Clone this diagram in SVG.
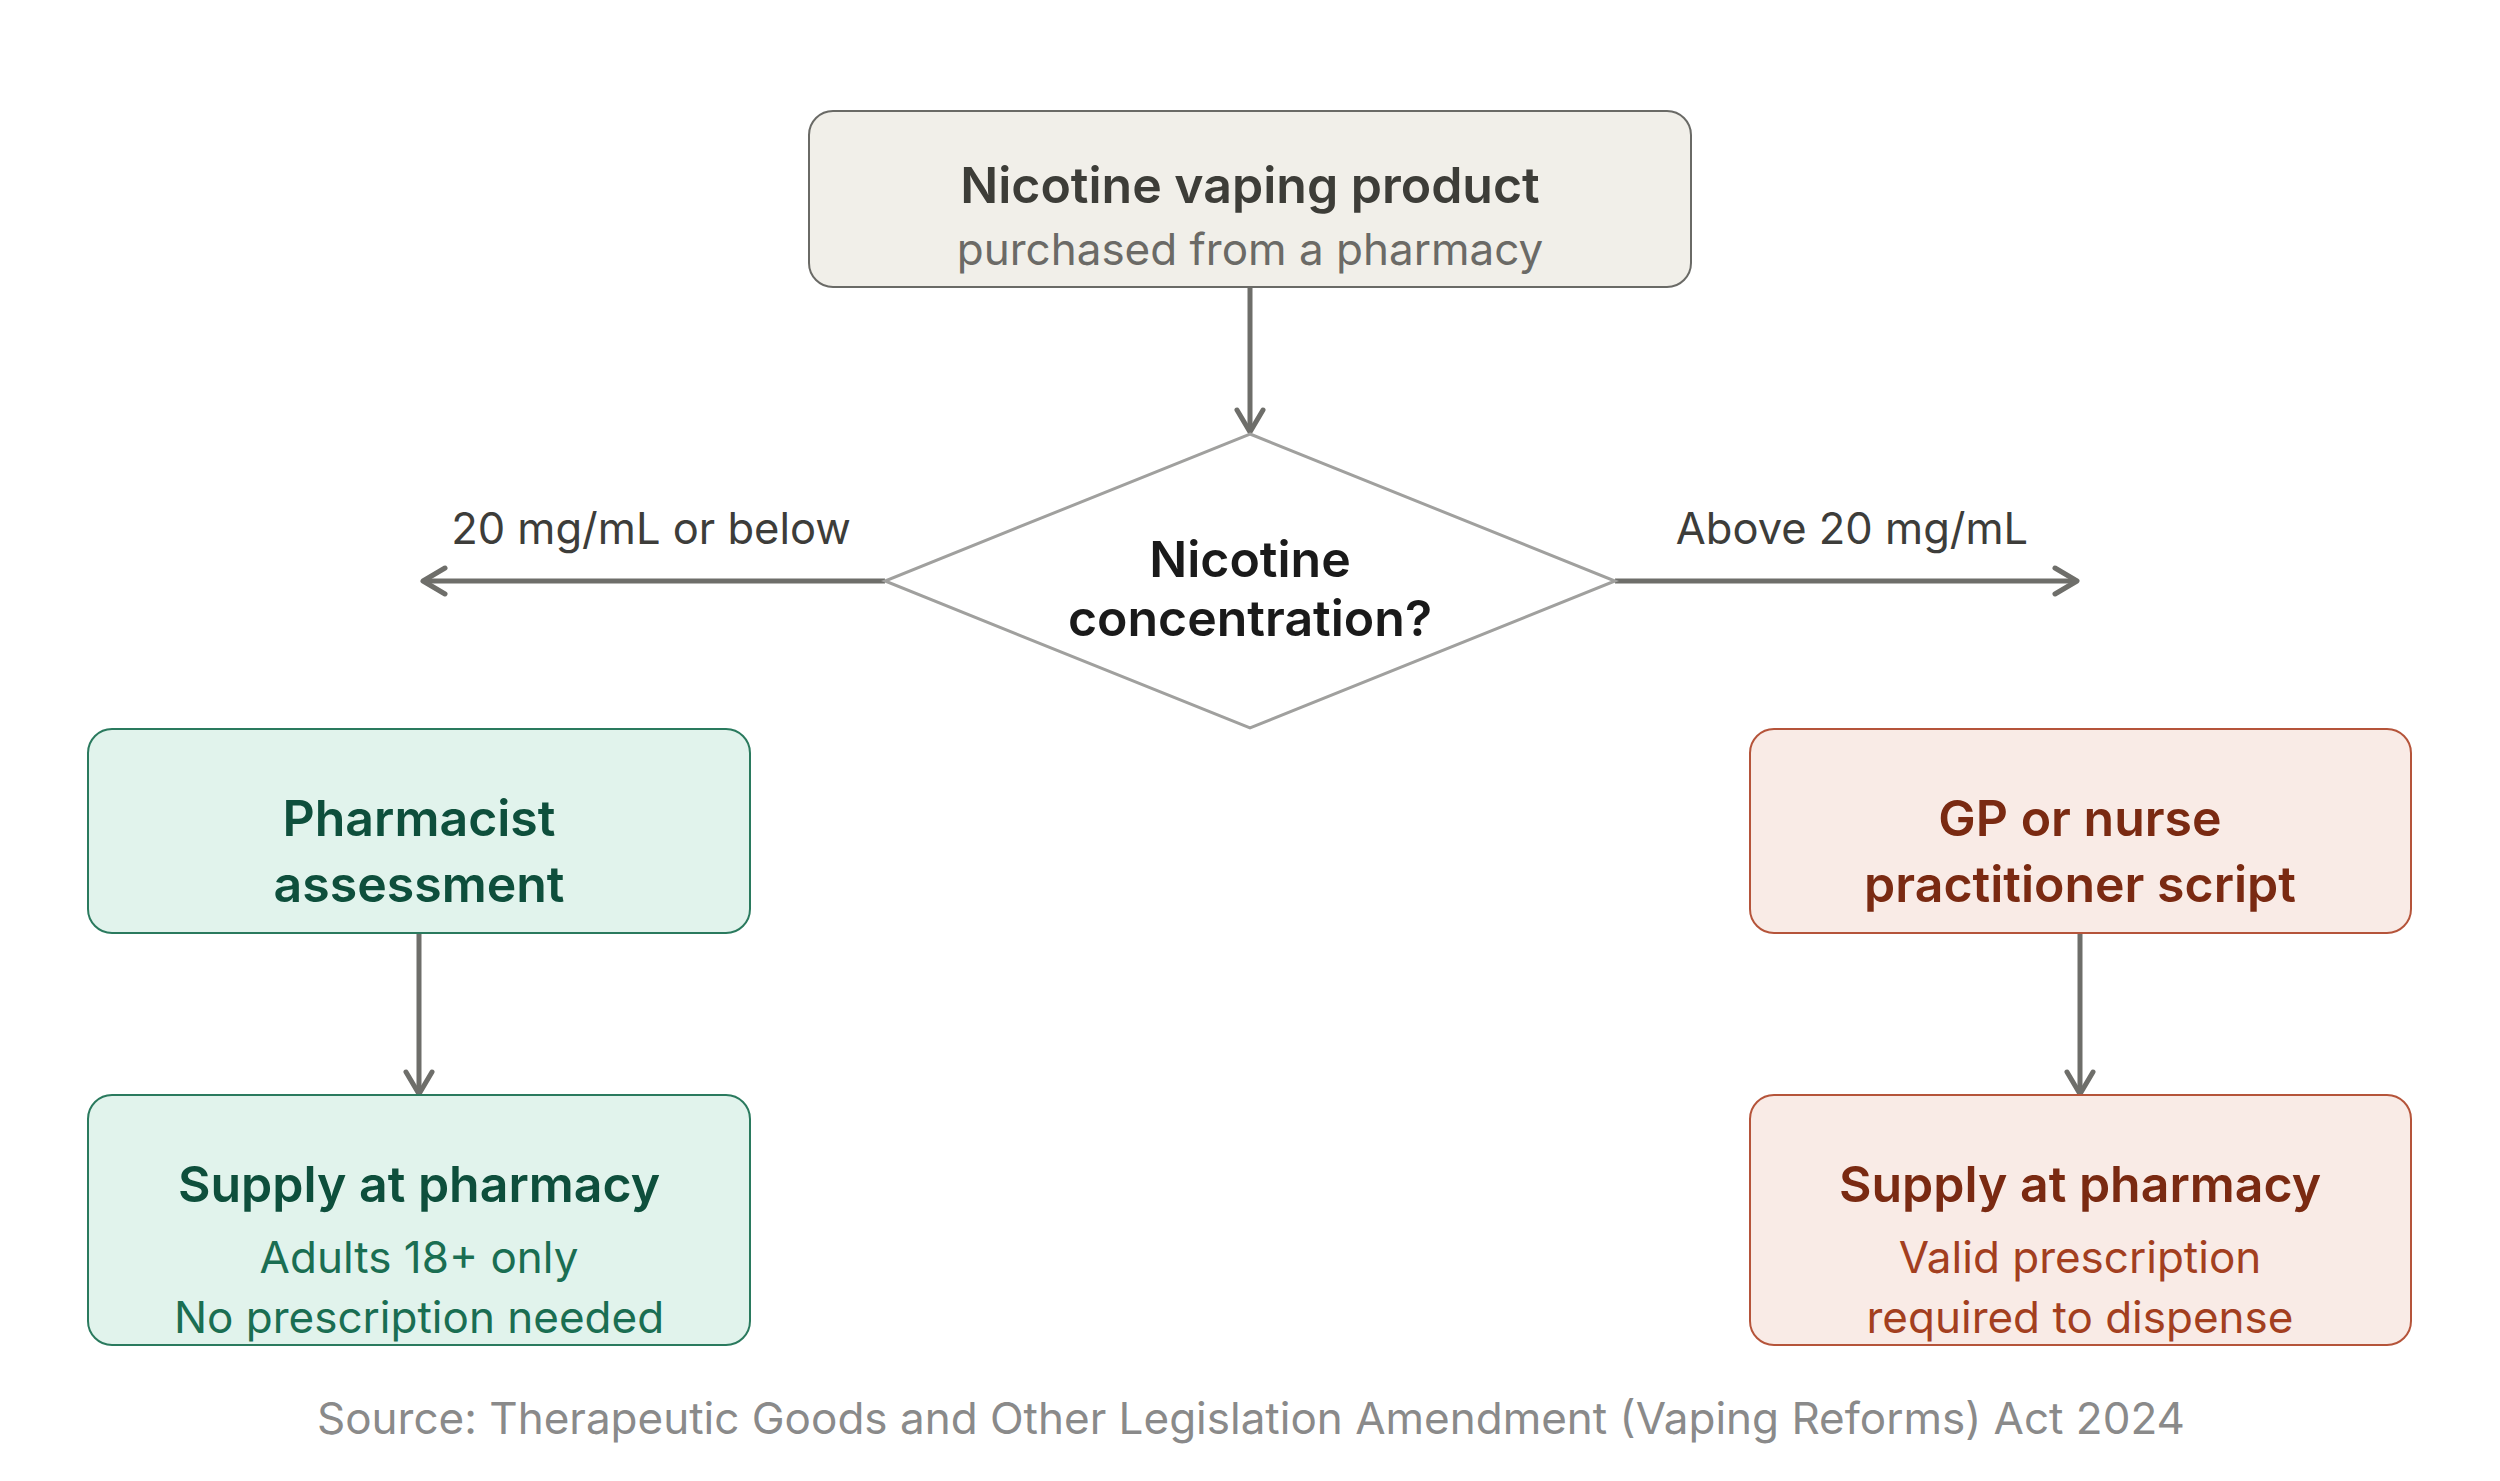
<svg xmlns="http://www.w3.org/2000/svg" width="2500" height="1481" viewBox="0 0 2500 1481">
<style>
text{font-family:Inter,"Noto Sans","Liberation Sans",sans-serif;text-anchor:middle}
.t{font-size:50px;font-weight:600}
.s{font-size:44px;font-weight:400}
.lbl{font-size:43.5px;fill:#3d3d3a}
.conn{stroke:#6e6e6a;stroke-width:5;fill:none}
.neutral rect{fill:#f1efe9;stroke:#6a6a66;stroke-width:2}
.green rect{fill:#e1f3ec;stroke:#2a7a5e;stroke-width:2}
.red rect{fill:#f9ebe6;stroke:#b5543a;stroke-width:2}
.green .t{fill:#0e4f3c}.green .s{fill:#1a6e52}
.red .t{fill:#7a2a12}.red .s{fill:#a33f1f}
</style>
<defs>
<marker id="arr" viewBox="-26 -18 30 36" markerWidth="30" markerHeight="36" refX="0" refY="0" orient="auto" markerUnits="userSpaceOnUse">
<path d="M-22,-13 L0,0 L-22,13" fill="none" stroke="#6e6e6a" stroke-width="5" stroke-linecap="round" stroke-linejoin="round"/>
</marker>
</defs>
<rect width="2500" height="1481" fill="#ffffff"/>
<g id="connectors">
<line class="conn" x1="1250" y1="287" x2="1250" y2="432" marker-end="url(#arr)"/>
<line class="conn" x1="885" y1="581" x2="423" y2="581" marker-end="url(#arr)"/>
<line class="conn" x1="1615" y1="581" x2="2077" y2="581" marker-end="url(#arr)"/>
<line class="conn" x1="419" y1="933" x2="419" y2="1094" marker-end="url(#arr)"/>
<line class="conn" x1="2080" y1="933" x2="2080" y2="1094" marker-end="url(#arr)"/>
<text class="lbl" x="651" y="544">20 mg/mL or below</text>
<text class="lbl" x="1852" y="544">Above 20 mg/mL</text>
</g>
<g id="start" class="neutral">
<rect x="809" y="111" width="882" height="176" rx="24"/>
<text class="t" x="1250" y="203" fill="#3d3d38">Nicotine vaping product</text>
<text class="s" x="1250" y="265" fill="#6b6a66">purchased from a pharmacy</text>
</g>
<g id="decision">
<polygon points="1250,434 1615,581 1250,728 885,581" fill="#ffffff" stroke="#a0a09e" stroke-width="3"/>
<text class="t" x="1250" y="577" fill="#1a1a1a">Nicotine</text>
<text class="t" x="1250" y="636" fill="#1a1a1a">concentration?</text>
</g>
<g id="pharmacist" class="green">
<rect x="88" y="729" width="662" height="204" rx="24"/>
<text class="t" x="419" y="836">Pharmacist</text>
<text class="t" x="419" y="902">assessment</text>
</g>
<g id="gp" class="red">
<rect x="1750" y="729" width="661" height="204" rx="24"/>
<text class="t" x="2080" y="836">GP or nurse</text>
<text class="t" x="2080" y="902">practitioner script</text>
</g>
<g id="supply-left" class="green">
<rect x="88" y="1095" width="662" height="250" rx="24"/>
<text class="t" x="419" y="1202">Supply at pharmacy</text>
<text class="s" x="419" y="1273">Adults 18+ only</text>
<text class="s" x="419" y="1333">No prescription needed</text>
</g>
<g id="supply-right" class="red">
<rect x="1750" y="1095" width="661" height="250" rx="24"/>
<text class="t" x="2080" y="1202">Supply at pharmacy</text>
<text class="s" x="2080" y="1273">Valid prescription</text>
<text class="s" x="2080" y="1333">required to dispense</text>
</g>
<text x="1251" y="1434" font-size="44" fill="#8a8a8a">Source: Therapeutic Goods and Other Legislation Amendment (Vaping Reforms) Act 2024</text>
</svg>
